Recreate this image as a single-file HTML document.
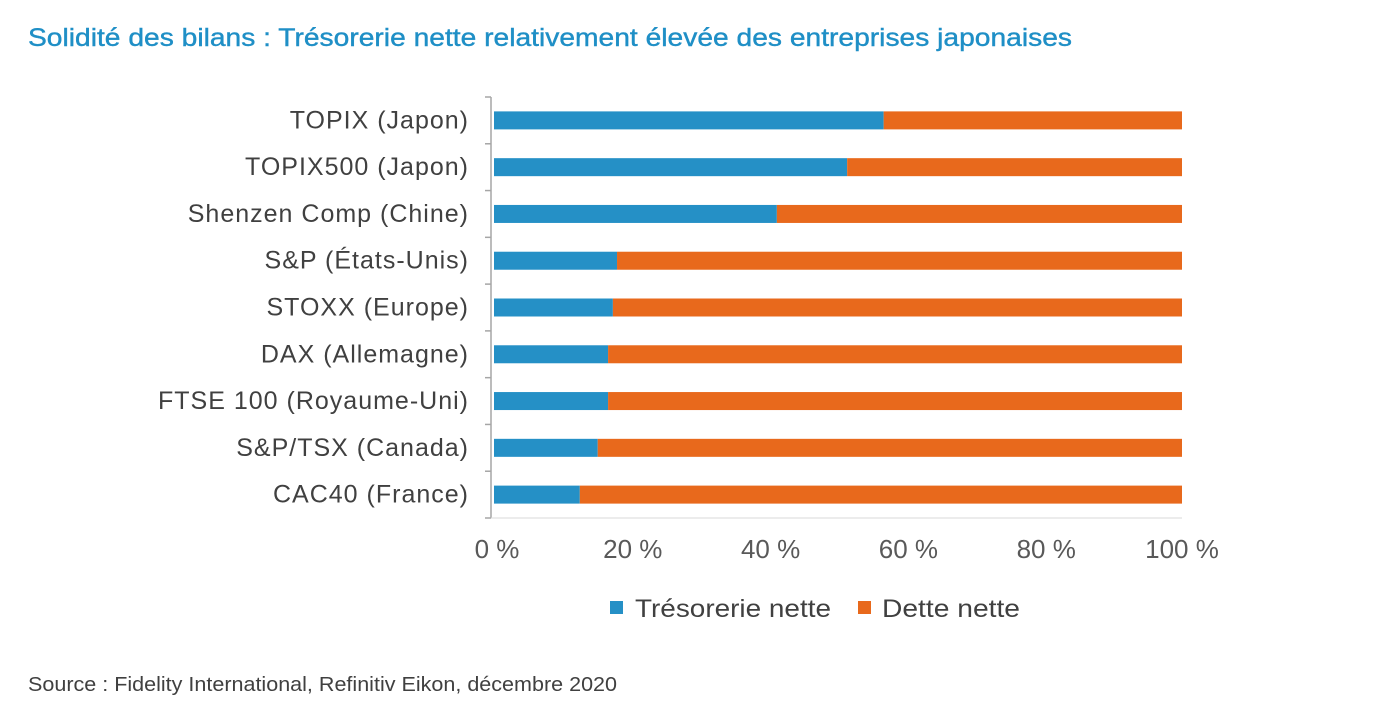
<!DOCTYPE html>
<html><head><meta charset="utf-8">
<style>
body{margin:0;background:#fff;width:1385px;height:723px;overflow:hidden;font-family:"Liberation Sans",sans-serif;}
svg{position:absolute;left:0;top:0}
</style></head>
<body>
<svg width="1385" height="723">
<text x="28" y="46" font-size="25" fill="#1f8fc6" stroke="#1f8fc6" stroke-width="0.4" textLength="1044" lengthAdjust="spacingAndGlyphs">Solidité des bilans : Trésorerie nette relativement élevée des entreprises japonaises</text>
<g id="plot"></g>
<g>
<rect x="610" y="601" width="13" height="13" fill="#2590c6"/>
<text x="635" y="617" font-size="25" fill="#404040" textLength="196" lengthAdjust="spacingAndGlyphs">Trésorerie nette</text>
<rect x="858" y="601" width="13" height="13" fill="#e8691c"/>
<text x="882" y="617" font-size="25" fill="#404040" textLength="138" lengthAdjust="spacingAndGlyphs">Dette nette</text>
</g>
<text x="28" y="691" font-size="20" fill="#404040" textLength="589" lengthAdjust="spacingAndGlyphs">Source : Fidelity International, Refinitiv Eikon, décembre 2020</text>
</svg>
<script>
const categories=["TOPIX (Japon)","TOPIX500 (Japon)","Shenzen Comp (Chine)","S&P (États-Unis)","STOXX (Europe)","DAX (Allemagne)","FTSE 100 (Royaume-Uni)","S&P/TSX (Canada)","CAC40 (France)"];
const cashValues=[56.7,51.4,41.2,18.0,17.4,16.7,16.7,15.2,12.6];
const debtValues=[43.3,48.6,58.8,82.0,82.6,83.3,83.3,84.8,87.4];
const tickValues=[0,20,40,60,80,100];
const tickLabels=["0 %","20 %","40 %","60 %","80 %","100 %"];
const NS="http://www.w3.org/2000/svg";
const g=document.getElementById("plot");
const x0=493,x1=1182,yTop=97,yBot=518;
const band=(yBot-yTop)/categories.length;
const xs=v=>x0+(x1-x0)*v/100;
const yc=i=>yTop+band*(i+0.5);
function mk(t,a){const e=document.createElementNS(NS,t);for(const k in a)e.setAttribute(k,a[k]);g.appendChild(e);return e;}
let axis=mk("line",{x1:x0-2,x2:x0-2,y1:yTop,y2:yBot,stroke:"#a6a6a6","stroke-width":1.5});


for(let i=0;i<=categories.length;i++){const y=yTop+band*i;let t=mk("line",{x1:x0-8,x2:x0-2,y1:y,y2:y,stroke:"#a6a6a6","stroke-width":1.5});

}
let xa=mk("line",{x1:x0-2,x2:x1,y1:yBot,y2:yBot,stroke:"#d9d9d9","stroke-width":1});


categories.forEach((c,i)=>{
 const y=yc(i),h=18;
 let a=mk("rect",{x:xs(0)+1,y:y-h/2,width:xs(cashValues[i])-xs(0)-1,height:h,fill:"#2590c6"});
 
 
 let b=mk("rect",{x:xs(cashValues[i]),y:y-h/2,width:xs(cashValues[i]+debtValues[i])-xs(cashValues[i]),height:h,fill:"#e8691c"});
 
 
 let t=mk("text",{x:469,y:y+8,"font-size":25,fill:"#404040","text-anchor":"end","letter-spacing":"1"});t.textContent=c;
 
 
});
tickValues.forEach((v,i)=>{
 let t=mk("text",{x:xs(v)+ (i==0?4:i==5?0:2),y:558,"font-size":26,fill:"#595959","text-anchor":"middle"});t.textContent=tickLabels[i];
 
 
});
</script>
</body></html>
